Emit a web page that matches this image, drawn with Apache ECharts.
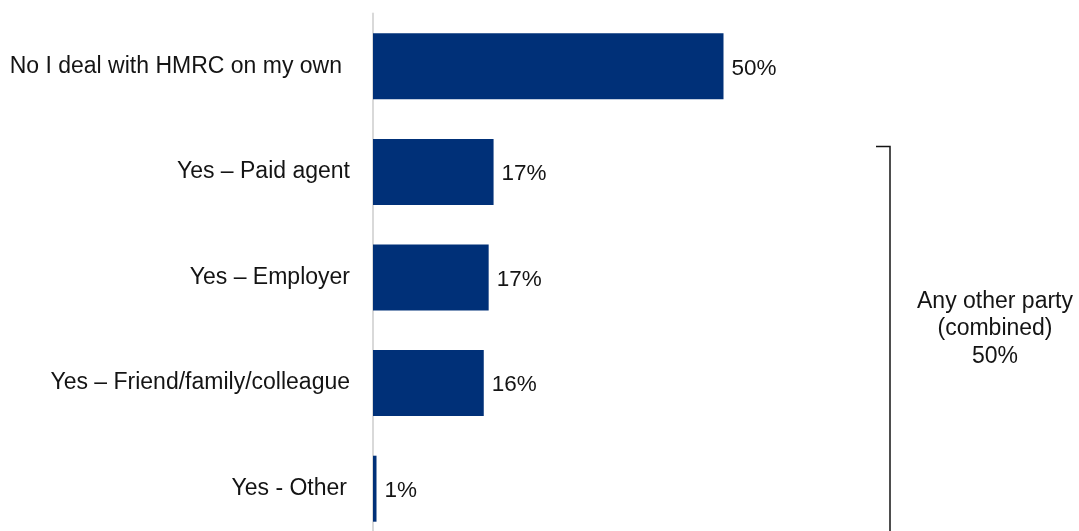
<!DOCTYPE html>
<html>
<head>
<meta charset="utf-8">
<style>
  html, body { margin: 0; padding: 0; background: #ffffff; }
  #chart { width: 1079px; height: 531px; }
</style>
<script src="https://cdn.jsdelivr.net/npm/echarts@6/dist/echarts.min.js"></script>
</head>
<body>
<div id="chart"></div>
<script>
// Who helps respondents deal with HMRC (% of respondents)
const categories = [
  'No I deal with HMRC on my own',
  'Yes \u2013 Paid agent',
  'Yes \u2013 Employer',
  'Yes \u2013 Friend/family/colleague',
  'Yes - Other'
];
const shares = [50.0, 17.2, 16.5, 15.8, 0.5];
// Categories grouped under the bracket on the right
const otherPartyCategories = categories.slice(1);

const FONT = '"Liberation Sans", Arial, sans-serif';
const TEXT = '#141414';
const BAR = '#003078';

const chart = echarts.init(document.getElementById('chart'), null, { renderer: 'canvas' });

const combined = otherPartyCategories
  .map(c => shares[categories.indexOf(c)])
  .reduce((a, b) => a + b, 0);

// the first label sits a little further from the axis than the rest
const categoryItems = categories.map((c, i) => ({
  value: c,
  textStyle: { padding: [0, i === 0 ? 8 : (i === 4 ? 3 : 0), 0, 0] }
}));

chart.setOption({
  animation: false,
  backgroundColor: '#ffffff',
  textStyle: { fontFamily: FONT },
  // the plot runs past the bottom edge, so the last band is cut off
  grid: {
    left: 373, top: 13.5, width: 701, height: 528,
    containLabel: false,
    outerBoundsMode: 'none'
  },
  xAxis: {
    type: 'value',
    min: 0,
    max: 100,
    show: false
  },
  yAxis: {
    type: 'category',
    data: categoryItems,
    inverse: true,
    axisLine: { show: true, lineStyle: { color: '#d9d9d9', width: 2 } },
    axisTick: { show: false },
    splitLine: { show: false },
    axisLabel: {
      margin: 23,
      color: TEXT,
      fontSize: 23,
      fontFamily: FONT
    }
  },
  series: [{
    type: 'bar',
    data: shares,
    barWidth: 66,
    itemStyle: { color: BAR },
    label: {
      show: true,
      position: 'right',
      distance: 8,
      offset: [0, 2],
      color: TEXT,
      fontSize: 22.5,
      fontFamily: FONT,
      formatter: p => Math.round(p.value) + '%'
    }
  }]
});

// Bracket spanning the "other party" bars, with the combined share
function drawBracket() {
  const firstIdx = categories.indexOf(otherPartyCategories[0]);
  const yFirst = chart.convertToPixel({ gridIndex: 0 }, [0, firstIdx])[1];
  const top = yFirst - 25.5;
  const bracketX = 890;
  chart.setOption({
    graphic: [
      {
        type: 'polyline',
        shape: { points: [[876, top], [bracketX, top], [bracketX, 545]] },
        style: { stroke: '#141414', lineWidth: 1.5, fill: null },
        silent: true
      },
      {
        type: 'text',
        x: 995,
        y: 329,
        style: {
          text: 'Any other party\n(combined)\n' + Math.round(combined) + '%',
          align: 'center',
          verticalAlign: 'middle',
          fontSize: 23,
          lineHeight: 27.5,
          fontFamily: FONT,
          fill: TEXT
        },
        silent: true
      }
    ]
  });
}
drawBracket();
</script>
</body>
</html>
